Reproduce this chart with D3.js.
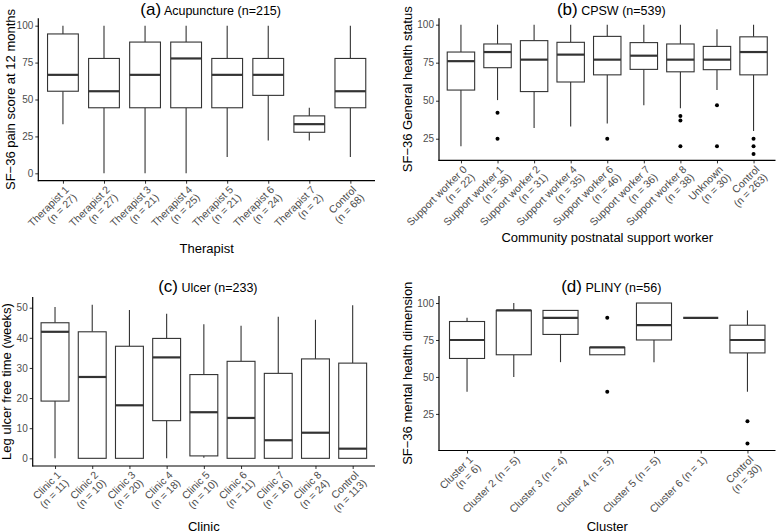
<!DOCTYPE html>
<html>
<head>
<meta charset="utf-8">
<script src="https://cdn.jsdelivr.net/npm/d3@7"></script>
<style>
  html, body { margin: 0; padding: 0; background: #fff; }
  svg { display: block; font-family: "Liberation Sans", Arial, Helvetica, sans-serif; opacity: 0.999; -webkit-font-smoothing: antialiased; }
</style>
</head>
<body>
<svg id="chart" width="776" height="532"></svg>
<script>
// ---------- Panel (a) Acupuncture ----------
const aLabels = ["Therapist 1\n(n = 27)", "Therapist 2\n(n = 27)", "Therapist 3\n(n = 21)", "Therapist 4\n(n = 25)",
                 "Therapist 5\n(n = 21)", "Therapist 6\n(n = 24)", "Therapist 7\n(n = 2)", "Control\n(n = 68)"];
const aLow  = [33.3, 0, 0, 0, 11.1, 22.2, 22.2, 11.1];
const aQ1   = [55.6, 44.4, 44.4, 44.4, 44.4, 52.8, 27.8, 44.4];
const aMed  = [66.7, 55.6, 66.7, 77.8, 66.7, 66.7, 33.3, 55.6];
const aQ3   = [94.4, 77.8, 88.9, 88.9, 77.8, 77.8, 38.9, 77.8];
const aHigh = [100, 100, 100, 100, 100, 100, 44.4, 100];
const aOut  = [[], [], [], [], [], [], [], []];
const aTicks = [0, 25, 50, 75, 100];

// ---------- Panel (b) CPSW ----------
const bLabels = ["Support worker 0\n(n = 22)", "Support worker 1\n(n = 38)", "Support worker 2\n(n = 31)",
                 "Support worker 4\n(n = 35)", "Support worker 6\n(n = 46)", "Support worker 7\n(n = 36)",
                 "Support worker 8\n(n = 38)", "Unknown\n(n = 30)", "Control\n(n = 263)"];
const bLow  = [20, 50.4, 32, 33, 35, 47, 45, 57, 30];
const bQ1   = [57, 71.7, 56, 62.3, 67, 70.6, 69, 70.4, 67];
const bMed  = [76, 82, 77, 80.3, 77, 79.6, 77, 77, 82];
const bQ3   = [82, 87.3, 89.5, 88.4, 92.3, 88.2, 87.3, 85.7, 92];
const bHigh = [100, 100, 100, 100, 100, 100, 100, 97, 100];
const bOut  = [[], [42, 25], [], [], [25], [], [40, 37, 20], [47, 20], [25, 20, 15]];
const bTicks = [25, 50, 75, 100];

// ---------- Panel (c) Ulcer ----------
const cLabels = ["Clinic 1\n(n = 11)", "Clinic 2\n(n = 10)", "Clinic 3\n(n = 20)", "Clinic 4\n(n = 18)",
                 "Clinic 5\n(n = 10)", "Clinic 6\n(n = 11)", "Clinic 7\n(n = 16)", "Clinic 8\n(n = 24)",
                 "Control\n(n = 113)"];
const cLow  = [0, 0, 0, 0, 0.2, 0, 0, 0, 0];
const cQ1   = [19, 0, 0, 12.5, 0.8, 0, 0, 0, 0];
const cMed  = [42, 27, 17.6, 33.5, 15.3, 13.4, 6, 8.5, 3.2];
const cQ3   = [45, 42, 37.2, 39.8, 27.8, 32.2, 28.2, 33, 31.6];
const cHigh = [50.2, 51, 49.2, 48, 44.5, 44, 47, 46, 50.8];
const cOut  = [[], [], [], [], [], [], [], [], []];
const cTicks = [0, 10, 20, 30, 40, 50];

// ---------- Panel (d) PLINY ----------
const dLabels = ["Cluster 1\n(n = 6)", "Cluster 2 (n = 5)", "Cluster 3 (n = 4)", "Cluster 4 (n = 5)",
                 "Cluster 5 (n = 5)", "Cluster 6 (n = 1)", "Control\n(n = 30)"];
const dLow  = [40, 50, 60, 65, 60, 90, 40];
const dQ1   = [62.5, 65, 78.75, 65, 75, 90, 66.25];
const dMed  = [75, 95, 90, 70, 85, 90, 75];
const dQ3   = [87.5, 95, 95, 70, 100, 90, 85];
const dHigh = [90, 100, 95, 70, 100, 90, 95];
const dOut  = [[], [], [], [90, 40], [], [], [20, 5]];
const dTicks = [25, 50, 75, 100];

const panels = [
  { tag: "(a)", title: " Acupuncture (n=215)", xTitle: "Therapist", yTitle: "SF\u221236 pain score at 12 months",
    labels: aLabels, low: aLow, q1: aQ1, med: aMed, q3: aQ3, high: aHigh, out: aOut, ticks: aTicks,
    x0: 38.3, x1: 375, y0: 18.3, y1: 180.7, titleY: 15, xTitleY: 253, yTitleX: 15 },
  { tag: "(b)", title: " CPSW (n=539)", xTitle: "Community postnatal support worker", yTitle: "SF\u221236 General health status",
    labels: bLabels, low: bLow, q1: bQ1, med: bMed, q3: bQ3, high: bHigh, out: bOut, ticks: bTicks,
    x0: 439, x1: 775.5, y0: 18.2, y1: 160.4, titleY: 15, xTitleY: 242, yTitleX: 412 },
  { tag: "(c)", title: " Ulcer (n=233)", xTitle: "Clinic", yTitle: "Leg ulcer free time (weeks)",
    labels: cLabels, low: cLow, q1: cQ1, med: cMed, q3: cQ3, high: cHigh, out: cOut, ticks: cTicks,
    x0: 32.7, x1: 375, y0: 297, y1: 466, titleY: 292, xTitleY: 530.5, yTitleX: 11 },
  { tag: "(d)", title: " PLINY (n=56)", xTitle: "Cluster", yTitle: "SF\u221236 mental health dimension",
    labels: dLabels, low: dLow, q1: dQ1, med: dMed, q3: dQ3, high: dHigh, out: dOut, ticks: dTicks,
    x0: 439, x1: 775.5, y0: 296, y1: 450.5, titleY: 292, xTitleY: 530.5, yTitleX: 412 }
];

const svg = d3.select("#chart");
const boxColor = "#333333";
const textColor = "#4d4d4d";

panels.forEach(p => {
  const n = p.labels.length;
  const idx = d3.range(n);
  const x = d3.scalePoint().domain(idx).range([p.x0, p.x1]).padding(0.6);
  const allVals = [].concat(p.low, p.high, ...p.out);
  const lo = d3.min(allVals), hi = d3.max(allVals);
  const pad = (hi - lo) * 0.05;
  const y = d3.scaleLinear().domain([lo - pad, hi + pad]).range([p.y1, p.y0]);
  const bw = x.step() * 0.75;

  const g = svg.append("g");

  // boxes
  const box = g.selectAll("g.box").data(idx).join("g").attr("class", "box");
  box.append("line")
    .attr("x1", i => x(i)).attr("x2", i => x(i))
    .attr("y1", i => y(p.q3[i])).attr("y2", i => y(p.high[i]))
    .attr("stroke", boxColor).attr("stroke-width", 1.1);
  box.append("line")
    .attr("x1", i => x(i)).attr("x2", i => x(i))
    .attr("y1", i => y(p.q1[i])).attr("y2", i => y(p.low[i]))
    .attr("stroke", boxColor).attr("stroke-width", 1.1);
  box.append("rect")
    .attr("x", i => x(i) - bw / 2).attr("width", bw)
    .attr("y", i => y(p.q3[i])).attr("height", i => y(p.q1[i]) - y(p.q3[i]))
    .attr("fill", "#fff").attr("stroke", boxColor).attr("stroke-width", 1.1);
  box.append("line")
    .attr("x1", i => x(i) - bw / 2).attr("x2", i => x(i) + bw / 2)
    .attr("y1", i => y(p.med[i])).attr("y2", i => y(p.med[i]))
    .attr("stroke", boxColor).attr("stroke-width", 2.2);
  box.selectAll("circle").data(i => p.out[i].map(v => ({ i, v }))).join("circle")
    .attr("cx", d => x(d.i)).attr("cy", d => y(d.v)).attr("r", 2)
    .attr("fill", "#000");

  // y axis
  const yAxis = d3.axisLeft(y).tickValues(p.ticks).tickSize(3).tickPadding(2).tickFormat(d3.format("d"));
  const ga = g.append("g").attr("transform", `translate(${p.x0},0)`).call(yAxis);
  ga.select(".domain").remove();
  ga.selectAll(".tick line").attr("stroke", boxColor);
  ga.selectAll(".tick text").attr("fill", textColor).attr("font-size", 10)
    .attr("font-family", "Liberation Sans, Arial, sans-serif");
  g.append("line").attr("x1", p.x0).attr("x2", p.x0).attr("y1", p.y0).attr("y2", p.y1 + 0.5)
    .attr("stroke", "#000").attr("stroke-width", 1.2);

  // x axis
  const xAxis = d3.axisBottom(x).tickSize(3).tickFormat("");
  const gx = g.append("g").attr("transform", `translate(0,${p.y1})`).call(xAxis);
  gx.select(".domain").remove();
  gx.selectAll(".tick line").attr("stroke", boxColor);
  g.append("line").attr("x1", p.x0 - 0.5).attr("x2", p.x1).attr("y1", p.y1).attr("y2", p.y1)
    .attr("stroke", "#000").attr("stroke-width", 1.2);

  // rotated category labels
  const lab = g.selectAll("g.xl").data(idx).join("g").attr("class", "xl")
    .attr("transform", i => `translate(${x(i) + 1},${p.y1 + 4}) rotate(-45)`);
  lab.append("text")
    .attr("text-anchor", "end").attr("font-size", 10.5).attr("fill", textColor)
    .selectAll("tspan").data(i => p.labels[i].split("\n")).join("tspan")
    .attr("x", 0).attr("y", (d, k) => 8 + k * 11).text(d => d);

  // title
  const cx = (p.x0 + p.x1) / 2 + 4;
  const t = g.append("text").attr("x", cx).attr("y", p.titleY).attr("text-anchor", "middle").attr("fill", "#000");
  t.append("tspan").attr("font-size", 17).text(p.tag);
  t.append("tspan").attr("font-size", 12.5).text(p.title);

  // axis titles
  g.append("text").attr("x", (p.x0 + p.x1) / 2).attr("y", p.xTitleY).attr("text-anchor", "middle")
    .attr("font-size", 13).attr("fill", "#000").text(p.xTitle);
  g.append("text").attr("transform", `translate(${p.yTitleX},${(p.y0 + p.y1) / 2}) rotate(-90)`)
    .attr("text-anchor", "middle").attr("font-size", 13).attr("fill", "#000").text(p.yTitle);
});
</script>
</body>
</html>
